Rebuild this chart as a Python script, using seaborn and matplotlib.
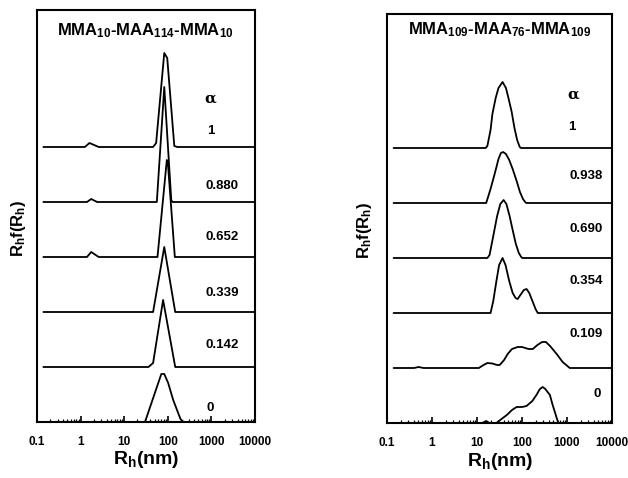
import numpy as np
import matplotlib
matplotlib.use("Agg")
import matplotlib.pyplot as plt
from matplotlib.ticker import LogLocator, FixedLocator, FixedFormatter, NullFormatter
import seaborn as sns

# ---- size distributions, R_h (nm) and R_h f(R_h) amplitude ----
# MMA10-MAA114-MMA10
left_alpha = ["0", "0.142", "0.339", "0.652", "0.880", "1"]
l0_rh = [0.14, 30, 71, 83, 102, 133, 195, 230, 10000]
l0_h = [0, 0, 48, 48, 39, 22, 3, 0, 0]
l0142_rh = [0.14, 36, 46, 78, 148, 10000]
l0142_h = [0, 0, 4, 67, 0, 0]
l0339_rh = [0.14, 46, 83, 148, 10000]
l0339_h = [0, 0, 65, 0, 0]
l0652_rh = [0.14, 1.4, 1.75, 2.6, 58, 95, 100, 145, 10000]
l0652_h = [0, 0, 5, 0, 0, 97, 95, 0, 0]
l0880_rh = [0.14, 1.4, 1.75, 2.4, 56, 83, 120, 128, 10000]
l0880_h = [0, 0, 3, 0, 0, 115, 2, 0, 0]
l1_rh = [0.14, 1.25, 1.6, 2.6, 46, 54, 83, 97, 141, 165, 10000]
l1_h = [0, 0, 4, 0, 0, 4, 94, 89, 1, 0, 0]

# MMA109-MAA76-MMA109
right_alpha = ["0", "0.109", "0.354", "0.690", "0.938", "1"]
r0_rh = [0.14, 13, 16, 19, 27, 35, 46, 60, 76, 100, 126, 170, 209, 250, 288,
         330, 417, 480, 537, 600, 650, 10000]
r0_h = [0, 0, 2, 0, 0, 4, 8, 13, 16, 16, 17, 22, 28, 34, 36,
        34, 28, 18, 11, 4, 0, 0]
r0109_rh = [0.14, 0.4, 0.5, 0.65, 11, 14, 17, 22, 28, 32, 40, 48, 60, 80, 100,
            140, 174, 220, 280, 340, 420, 590, 800, 1150, 10000]
r0109_h = [0, 0, 1, 0, 0, 3, 5, 4.5, 3, 3, 8, 14, 19, 21, 21,
           19, 19, 23, 26, 26, 22, 14, 6, 0, 0]
r0354_rh = [0.14, 20, 23, 27, 31, 37, 43, 52, 62, 72, 80, 92, 110, 126, 145,
            174, 200, 224, 10000]
r0354_h = [0, 0, 12, 32, 48, 55, 48, 32, 20, 15, 14, 18, 23, 24, 20,
           11, 4, 0, 0]
r0690_rh = [0.14, 17, 19, 23, 28, 33, 39, 45, 53, 62, 73, 85, 96, 102, 10000]
r0690_h = [0, 0, 3, 22, 42, 54, 58, 54, 42, 28, 14, 5, 1, 0, 0]
r0938_rh = [0.14, 16, 20, 25, 30, 34, 38, 44, 52, 62, 76, 90, 105, 120, 126, 10000]
r0938_h = [0, 0, 14, 30, 44, 50, 51, 49, 43, 34, 22, 11, 4, 0.5, 0, 0]
r1_rh = [0.14, 15.5, 17, 20, 22, 26, 30, 37, 44, 50, 59, 68, 78, 89, 95, 10000]
r1_h = [0, 0, 2, 18, 34, 50, 60, 66, 60, 50, 36, 20, 8, 1, 0, 0]

tick_values = [0.1, 1, 10, 100, 1000, 10000]
tick_labels = ["0.1", "1", "10", "100", "1000", "10000"]

left_curves = [(l0_rh, l0_h), (l0142_rh, l0142_h), (l0339_rh, l0339_h),
               (l0652_rh, l0652_h), (l0880_rh, l0880_h), (l1_rh, l1_h)]
right_curves = [(r0_rh, r0_h), (r0109_rh, r0109_h), (r0354_rh, r0354_h),
                (r0690_rh, r0690_h), (r0938_rh, r0938_h), (r1_rh, r1_h)]

sns.set_theme(style="white")
plt.rcParams.update({
    "font.family": ["Liberation Sans", "DejaVu Sans"],
    "font.weight": "bold",
    "text.color": "black",
    "axes.labelcolor": "black",
    "xtick.color": "black",
    "mathtext.fontset": "custom",
    "mathtext.rm": "Liberation Sans:bold",
    "mathtext.bf": "Liberation Sans:bold",
    "mathtext.it": "Liberation Sans:bold",
})

fig = plt.figure(figsize=(6.28, 4.78), dpi=100)
W, H = 628, 478
axL = fig.add_axes([37 / W, 1 - 422 / H, 218 / W, 412 / H])
axR = fig.add_axes([387 / W, 1 - 423 / H, 225 / W, 409 / H])

STEP = 55  # vertical offset between stacked traces


def style_axis(ax, ytop):
    ax.set_xscale("log")
    ax.set_xlim(0.1, 10000)
    ax.set_ylim(0, ytop)
    ax.set_yticks([])
    for s in ax.spines.values():
        s.set_visible(True)
        s.set_color("black")
        s.set_linewidth(1.5)
    ax.xaxis.set_major_locator(FixedLocator(tick_values))
    ax.xaxis.set_major_formatter(FixedFormatter(tick_labels))
    ax.xaxis.set_minor_locator(LogLocator(base=10, subs=np.arange(2, 10)))
    ax.xaxis.set_minor_formatter(NullFormatter())
    ax.tick_params(axis="x", which="major", direction="in", length=4, width=1.2,
                   bottom=True, top=False, labelsize=8.5, pad=10, colors="black")
    ax.tick_params(axis="x", which="minor", direction="in", length=2.2, width=0.9,
                   bottom=True, top=False)
    for lab in ax.get_xticklabels():
        lab.set_fontweight("bold")


style_axis(axL, 412)
style_axis(axR, 409)

for ax, curves in ((axL, left_curves), (axR, right_curves)):
    for i, (rh, h) in enumerate(curves):
        sns.lineplot(x=rh, y=np.asarray(h, dtype=float) + i * STEP, ax=ax,
                     color="black", linewidth=1.3, sort=False, estimator=None)
    ax.set_xlabel("")
    ax.set_ylabel("")

# titles
axL.text(0.495, 0.951, r"MMA$_{10}$-MAA$_{114}$-MMA$_{10}$", transform=axL.transAxes,
         ha="center", va="center", fontsize=12, fontweight="bold")
axR.text(0.502, 0.961, r"MMA$_{109}$-MAA$_{76}$-MMA$_{109}$", transform=axR.transAxes,
         ha="center", va="center", fontsize=12, fontweight="bold")

# alpha labels
lab_kw = dict(ha="center", va="center", fontsize=9.5, fontweight="bold")
axL.text(0.794, 0.786, "α", transform=axL.transAxes, ha="center", va="center",
         fontsize=11, family="DejaVu Serif")
axL.text(0.798, 0.706, left_alpha[5], transform=axL.transAxes, **lab_kw)
left_pos = [(0.794, 0.034), (0.849, 0.187), (0.849, 0.313), (0.849, 0.449), (0.849, 0.573)]
for (x, y), t in zip(left_pos, left_alpha[:5]):
    axL.text(x, y, t, transform=axL.transAxes, **lab_kw)

axR.text(0.827, 0.804, "α", transform=axR.transAxes, ha="center", va="center",
         fontsize=11, family="DejaVu Serif")
axR.text(0.822, 0.724, right_alpha[5], transform=axR.transAxes, **lab_kw)
right_pos = [(0.933, 0.071), (0.884, 0.218), (0.884, 0.347), (0.884, 0.474), (0.884, 0.604)]
for (x, y), t in zip(right_pos, right_alpha[:5]):
    axR.text(x, y, t, transform=axR.transAxes, **lab_kw)

# axis titles
fig.text(146 / W, 1 - 460 / H, r"R$_{h}$(nm)", ha="center", va="center",
         fontsize=14, fontweight="bold")
fig.text(500 / W, 1 - 462 / H, r"R$_{h}$(nm)", ha="center", va="center",
         fontsize=14, fontweight="bold")
fig.text(19 / W, 1 - 228 / H, r"R$_{h}$f(R$_{h}$)", ha="center", va="center",
         rotation=90, fontsize=12, fontweight="bold")
fig.text(365 / W, 1 - 230 / H, r"R$_{h}$f(R$_{h}$)", ha="center", va="center",
         rotation=90, fontsize=12, fontweight="bold")

fig.savefig("out.png", dpi=100, facecolor="white")
